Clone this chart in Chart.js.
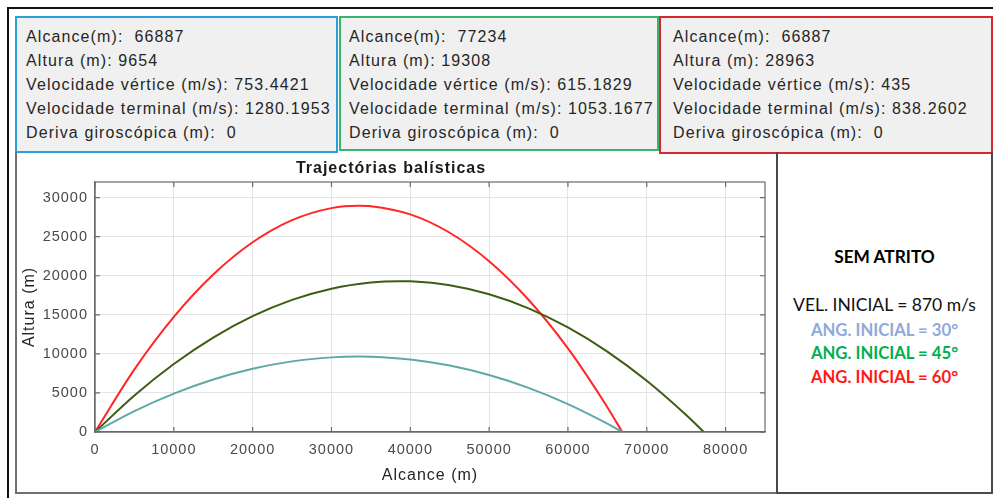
<!DOCTYPE html>
<html>
<head>
<meta charset="utf-8">
<script src="https://cdn.jsdelivr.net/npm/chart.js@4.4.1/dist/chart.umd.min.js"></script>
<style>
  html, body { margin: 0; padding: 0; background: #fff; }
  body { width: 993px; height: 498px; position: relative; overflow: hidden; font-family: "Liberation Sans", Arial, sans-serif; }
  .frame { position: absolute; left: 7px; top: 7px; width: 990px; height: 495px; border-left: 2px solid #111; border-top: 2px solid #111; }
  .info { position: absolute; box-sizing: border-box; background: #f0f0f0; border: 2px solid; padding: 7px 0 0 9px; font-size: 16px; letter-spacing: 1.1px; color: #262626; line-height: 24px; white-space: pre; }
  #box30 { left: 15px; top: 16px; width: 323px; height: 137px; border-color: #2b9fd9; }
  #box45 { left: 339px; top: 16px; width: 320px; height: 135px; border-color: #35b56e; padding-left: 8px; }
  #box60 { left: 659px; top: 16px; width: 334px; height: 138px; border-color: #d42a2f; padding-left: 12px; }
  .plotPanel { position: absolute; left: 15px; top: 152px; width: 763px; height: 342px; box-sizing: border-box; border: 2px solid #6f6f6f; border-top: none; }
  #chart { position: absolute; left: 17px; top: 154px; }
  .side { position: absolute; left: 776px; top: 152px; width: 217px; height: 342px; box-sizing: border-box; border: 2px solid #4a4a4a; border-top: none; font-family: Lato, "Open Sans", sans-serif; text-align: center; }
  .side div { position: absolute; left: 0; width: 100%; font-size: 17.3px; line-height: 24px; }
</style>
</head>
<body>
<div class="frame"></div>
<div class="info" id="box30"></div>
<div class="info" id="box45"></div>
<div class="info" id="box60"></div>
<div class="plotPanel"></div>
<canvas id="chart" width="758" height="337"></canvas>
<div class="side">
  <div style="top:93px;font-weight:bold;color:#000">SEM ATRITO</div>
  <div style="top:141px;color:#111;font-size:17.5px">VEL. INICIAL = 870 m/s</div>
  <div style="top:166px;font-weight:bold;color:#8eaadb;font-size:16.7px">ANG. INICIAL = 30°</div>
  <div style="top:189px;font-weight:bold;color:#00b050;font-size:16.7px">ANG. INICIAL = 45°</div>
  <div style="top:213px;font-weight:bold;color:#ff1a1a;font-size:16.7px">ANG. INICIAL = 60°</div>
</div>
<script>
// trajectory points (alcance m, altura m)
var alcance30 = [0, 5000, 10000, 15000, 20000, 25000, 30000, 33443, 35000, 40000, 45000, 50000, 55000, 60000, 65000, 66887];
var altura30 = [0, 2671, 4910, 6718, 8094, 9039, 9552, 9654, 9633, 9283, 8501, 7288, 5643, 3567, 1059, 0];

var alcance45 = [0, 5000, 10000, 15000, 20000, 25000, 30000, 35000, 38617, 40000, 45000, 50000, 55000, 60000, 65000, 70000, 75000, 77234];
var altura45 = [0, 4676, 8705, 12086, 14821, 16907, 18346, 19139, 19308, 19283, 18780, 17630, 15833, 13388, 10296, 6556, 2169, 0];

var alcance60 = [0, 5000, 10000, 15000, 20000, 25000, 30000, 33443, 35000, 40000, 45000, 50000, 55000, 60000, 65000, 66887];
var altura60 = [0, 8012, 14732, 20155, 24283, 27116, 28656, 28963, 28900, 27850, 25505, 21865, 16931, 10701, 3176, 0];

var xTicks = [0, 10000, 20000, 30000, 40000, 50000, 60000, 70000, 80000];
var yTicks = [0, 5000, 10000, 15000, 20000, 25000, 30000];

var info30 = ['Alcance(m):  66887', 'Altura (m): 9654', 'Velocidade vértice (m/s): 753.4421', 'Velocidade terminal (m/s): 1280.1953', 'Deriva giroscópica (m):  0'];
var info45 = ['Alcance(m):  77234', 'Altura (m): 19308', 'Velocidade vértice (m/s): 615.1829', 'Velocidade terminal (m/s): 1053.1677', 'Deriva giroscópica (m):  0'];
var info60 = ['Alcance(m):  66887', 'Altura (m): 28963', 'Velocidade vértice (m/s): 435', 'Velocidade terminal (m/s): 838.2602', 'Deriva giroscópica (m):  0'];

document.getElementById('box30').textContent = info30.join('\n');
document.getElementById('box45').textContent = info45.join('\n');
document.getElementById('box60').textContent = info60.join('\n');

function toPoints(xs, ys) {
    return xs.map(function (x, i) { return {x: x, y: ys[i]}; });
}

var axisColor = '#6b6b6b';
var tickFont = {family: '"Liberation Sans", Arial, sans-serif', size: 14.5};

// spacing like the original figure text
var spacingPlugin = {
    id: 'spacing',
    beforeUpdate: function (chart) { chart.ctx.letterSpacing = '1px'; },
    beforeDraw: function (chart) { chart.ctx.letterSpacing = '1px'; }
};

// matlab style box with inward ticks
var boxPlugin = {
    id: 'axBox',
    afterDatasetsDraw: function (chart) {
        var ctx = chart.ctx, a = chart.chartArea;
        var xs = chart.scales.x, ys = chart.scales.y;
        ctx.save();
        ctx.strokeStyle = axisColor;
        ctx.lineWidth = 1.2;
        ctx.strokeRect(a.left, a.top, a.right - a.left, a.bottom - a.top);
        ctx.beginPath();
        xTicks.forEach(function (v) {
            var p = xs.getPixelForValue(v);
            ctx.moveTo(p, a.bottom); ctx.lineTo(p, a.bottom - 5);
            ctx.moveTo(p, a.top); ctx.lineTo(p, a.top + 5);
        });
        yTicks.forEach(function (v) {
            var p = ys.getPixelForValue(v);
            ctx.moveTo(a.left, p); ctx.lineTo(a.left + 5, p);
            ctx.moveTo(a.right, p); ctx.lineTo(a.right - 5, p);
        });
        ctx.stroke();
        ctx.restore();
    }
};

var ctx = document.getElementById('chart').getContext('2d');
new Chart(ctx, {
    type: 'line',
    data: {
        datasets: [{
            label: '30',
            data: toPoints(alcance30, altura30),
            borderColor: '#5ea9a6',
            borderWidth: 2
        }, {
            label: '45',
            data: toPoints(alcance45, altura45),
            borderColor: '#3d5c14',
            borderWidth: 2
        }, {
            label: '60',
            data: toPoints(alcance60, altura60),
            borderColor: '#ff2626',
            borderWidth: 2
        }]
    },
    options: {
        responsive: false,
        animation: false,
        cubicInterpolationMode: 'monotone',
        elements: {point: {radius: 0}},
        layout: {padding: {left: 0, right: 10, top: 0, bottom: 0}},
        plugins: {
            legend: {display: false},
            tooltip: {enabled: false},
            title: {
                display: true,
                text: 'Trajectórias balísticas',
                color: '#1a1a1a',
                font: {family: '"Liberation Sans", Arial, sans-serif', size: 16, weight: 'bold'},
                padding: {top: 5.4, bottom: 3.4}
            }
        },
        scales: {
            x: {
                type: 'linear',
                min: 0,
                max: 85000,
                afterBuildTicks: function (s) { s.ticks = xTicks.map(function (v) { return {value: v}; }); },
                afterFit: function (s) { s.height = 59; },
                grid: {color: '#e4e4e4', drawTicks: false},
                border: {color: axisColor, width: 1.2},
                ticks: {color: '#4a4a4a', font: tickFont, padding: 9.3, maxRotation: 0, autoSkip: false,
                    callback: function (v) { return String(v); }},
                title: {display: true, text: 'Alcance (m)', color: '#262626',
                    font: {family: '"Liberation Sans", Arial, sans-serif', size: 16}, padding: {top: 0, bottom: 5.4}}
            },
            y: {
                min: 0,
                max: 32000,
                afterBuildTicks: function (s) { s.ticks = yTicks.map(function (v) { return {value: v}; }); },
                afterFit: function (s) { s.width = 78; },
                grid: {color: '#e4e4e4', drawTicks: false},
                border: {color: axisColor, width: 1.2},
                ticks: {color: '#4a4a4a', font: tickFont, padding: 7,
                    callback: function (v) { return String(v); }},
                title: {display: true, text: 'Altura (m)', color: '#262626',
                    font: {family: '"Liberation Sans", Arial, sans-serif', size: 16}, padding: {top: 3.4, bottom: 0}}
            }
        }
    },
    plugins: [spacingPlugin, boxPlugin]
});
</script>
</body>
</html>
